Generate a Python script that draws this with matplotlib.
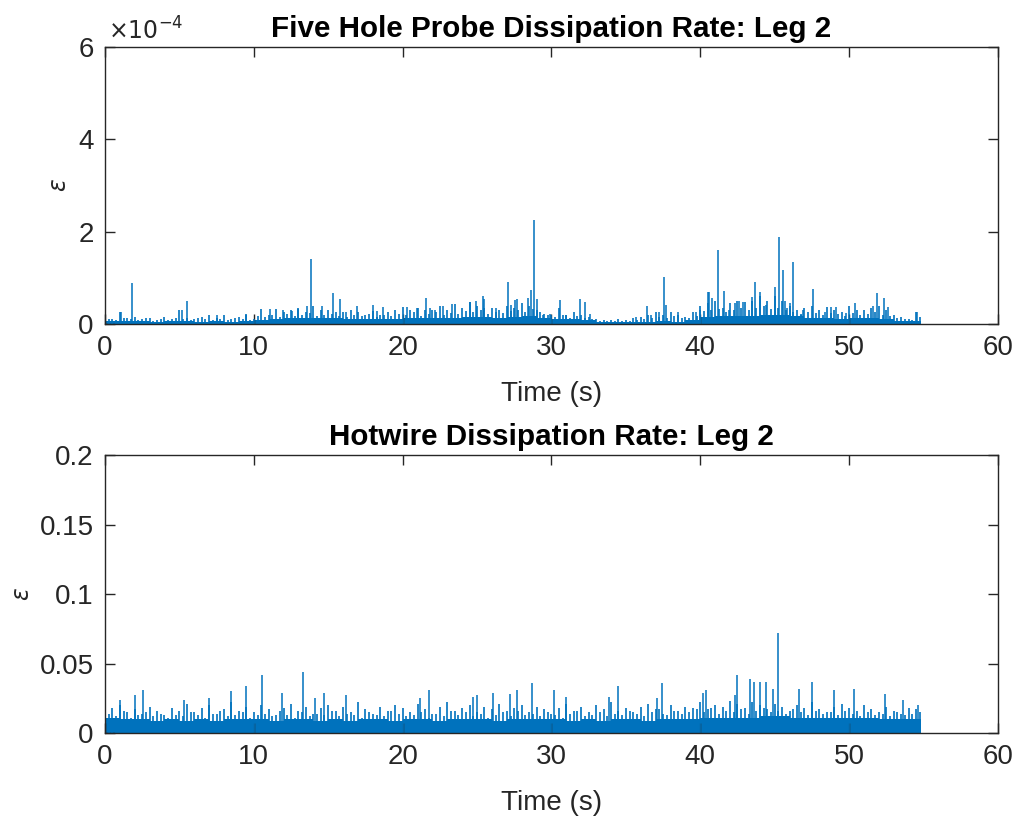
import numpy as np
import matplotlib
matplotlib.use("Agg")
import matplotlib.pyplot as plt

plt.rcParams['font.family'] = ['Liberation Sans', 'DejaVu Sans']

# ---- data ----
# five hole probe, values in units of 1e-4
fhp_spike_t = [0.0, 1.05, 1.8, 5.15, 5.5, 7.5, 9.5, 11.1, 11.94, 12.6, 13.0, 13.6,
               13.87, 14.56, 15.35, 15.8, 16.2, 16.96, 18.0, 18.3, 18.7, 20.3, 20.95,
               21.57, 21.85, 22.2, 22.7, 23.3, 24.5, 24.9, 25.4, 25.5, 26.3, 27.1,
               27.3, 27.55, 27.7, 28.45, 28.65, 28.8, 29.0, 29.4, 29.9, 30.55, 31.0,
               31.9, 32.25, 32.6, 35.7, 36.4, 36.7, 37.2, 37.57, 37.7, 38.5, 39.7,
               40.0, 40.5, 40.6, 40.8, 41.2, 41.6, 41.9, 42.3, 42.6, 42.9, 43.5,
               43.7, 44.0, 44.4, 45.0, 45.27, 45.57, 45.7, 45.85, 46.0, 46.2, 46.8,
               46.9, 47.56, 48.4, 48.8, 49.1, 49.8, 50.4, 51.6, 51.86, 52.35, 52.6,
               54.55]
fhp_spike_v = [0.74, 0.25, 0.89, 0.3, 0.5, 0.2, 0.2, 0.33, 0.3, 0.28, 0.33, 0.4,
               1.4, 0.39, 0.67, 0.54, 0.26, 0.4, 0.41, 0.28, 0.37, 0.36, 0.35,
               0.57, 0.34, 0.3, 0.38, 0.44, 0.47, 0.5, 0.6, 0.55, 0.34, 0.92,
               0.42, 0.53, 0.55, 0.57, 0.74, 2.25, 0.55, 0.2, 0.22, 0.51, 0.2,
               0.55, 0.48, 0.22, 0.15, 0.38, 0.2, 0.25, 1.01, 0.42, 0.27, 0.27,
               0.3, 0.7, 0.69, 0.56, 1.6, 0.72, 0.3, 0.46, 0.5, 0.48, 0.58,
               0.92, 0.7, 0.42, 0.8, 1.89, 1.17, 0.5, 0.35, 0.45, 1.34, 0.2,
               0.3, 0.75, 0.26, 0.36, 0.36, 0.23, 0.46, 0.4, 0.68, 0.56, 0.37,
               0.25]
# typical hair heights every 0.5 s
fhp_hair = [0.15, 0.1, 0.25, 0.12, 0.15, 0.1, 0.12, 0.08, 0.15, 0.1,
            0.3, 0.12, 0.1, 0.15, 0.2, 0.12, 0.2, 0.1, 0.15, 0.22,
            0.1, 0.33, 0.2, 0.33, 0.25, 0.3, 0.35, 0.25, 0.4, 0.3,
            0.3, 0.25, 0.26, 0.3, 0.25, 0.2, 0.28, 0.2, 0.25, 0.3,
            0.36, 0.3, 0.35, 0.3, 0.3, 0.38, 0.3, 0.44, 0.35, 0.47,
            0.4, 0.35, 0.34, 0.3, 0.4, 0.35, 0.45, 0.4, 0.3, 0.22,
            0.2, 0.35, 0.2, 0.25, 0.2, 0.15, 0.1, 0.08, 0.08, 0.1,
            0.08, 0.12, 0.15, 0.2, 0.25, 0.2, 0.27, 0.2, 0.15, 0.27,
            0.4, 0.45, 0.5, 0.35, 0.46, 0.5, 0.48, 0.5, 0.6, 0.5,
            0.6, 0.5, 0.4, 0.3, 0.35, 0.4, 0.3, 0.36, 0.3, 0.25,
            0.4, 0.3, 0.3, 0.35, 0.4, 0.3, 0.2, 0.15, 0.1, 0.25]
# smaller hairs, offset a quarter second
fhp_hair_b = [0.1, 0.08, 0.12, 0.1, 0.08, 0.12, 0.07, 0.1, 0.09, 0.12,
              0.1, 0.08, 0.12, 0.1, 0.09, 0.11, 0.08, 0.12, 0.1, 0.09,
              0.18, 0.15, 0.2, 0.16, 0.22, 0.18, 0.2, 0.24, 0.18, 0.2,
              0.22, 0.18, 0.15, 0.2, 0.17, 0.22, 0.16, 0.2, 0.18, 0.22,
              0.2, 0.25, 0.18, 0.22, 0.26, 0.2, 0.24, 0.22, 0.28, 0.25,
              0.3, 0.22, 0.26, 0.24, 0.28, 0.3, 0.26, 0.32, 0.25, 0.2,
              0.15, 0.2, 0.14, 0.18, 0.12, 0.1, 0.07, 0.06, 0.07, 0.06,
              0.07, 0.08, 0.1, 0.12, 0.15, 0.12, 0.18, 0.14, 0.12, 0.18,
              0.28, 0.3, 0.32, 0.26, 0.3, 0.34, 0.3, 0.35, 0.38, 0.32,
              0.35, 0.3, 0.26, 0.22, 0.25, 0.24, 0.2, 0.24, 0.22, 0.18,
              0.24, 0.2, 0.22, 0.25, 0.2, 0.18, 0.12, 0.1, 0.08, 0.15]
# base level per second
fhp_base = [0.07, 0.06, 0.06, 0.05, 0.06, 0.06, 0.05, 0.06, 0.05, 0.06,
            0.08, 0.1, 0.12, 0.12, 0.14, 0.12, 0.1, 0.1, 0.1, 0.1,
            0.12, 0.12, 0.12, 0.14, 0.15, 0.15, 0.12, 0.15, 0.18, 0.12,
            0.1, 0.1, 0.08, 0.04, 0.04, 0.04, 0.05, 0.06, 0.05, 0.08,
            0.15, 0.18, 0.18, 0.18, 0.2, 0.2, 0.18, 0.14, 0.12, 0.1,
            0.12, 0.12, 0.1, 0.06, 0.06]

# hotwire
hw_spike_t = [0.0, 1.0, 2.0, 2.58, 5.3, 7.0, 8.5, 9.5, 10.55, 11.9, 13.3, 14.1,
              14.7, 16.2, 21.2, 21.8, 24.7, 25.0, 26.1, 27.2, 27.7, 28.7, 30.15,
              31.0, 33.9, 34.5, 37.1, 37.4, 40.2, 40.4, 42.3, 42.5, 43.35, 43.6,
              44.0, 44.4, 44.9, 45.2, 46.6, 47.5, 49.0, 50.3, 52.4, 53.6, 54.6]
hw_spike_v = [0.2, 0.024, 0.027, 0.031, 0.024, 0.025, 0.03, 0.034, 0.042, 0.029,
              0.044, 0.025, 0.029, 0.027, 0.025, 0.031, 0.026, 0.027, 0.029, 0.028,
              0.031, 0.036, 0.031, 0.026, 0.026, 0.034, 0.025, 0.036, 0.029, 0.031,
              0.027, 0.042, 0.039, 0.037, 0.037, 0.037, 0.032, 0.072, 0.032, 0.037,
              0.031, 0.032, 0.028, 0.024, 0.02]
hw_hair_a = [0.022, 0.018, 0.02, 0.015, 0.017, 0.014, 0.019, 0.016, 0.013, 0.018,
             0.016, 0.021, 0.015, 0.018, 0.02, 0.014, 0.017, 0.022, 0.016, 0.019,
             0.015, 0.02, 0.017, 0.013, 0.018, 0.021, 0.016, 0.019, 0.014, 0.018,
             0.02, 0.016, 0.019, 0.015, 0.022, 0.017, 0.014, 0.019, 0.016, 0.02,
             0.018, 0.015, 0.021, 0.017, 0.014, 0.019, 0.022, 0.016, 0.018, 0.02,
             0.015, 0.019, 0.017, 0.021, 0.016, 0.018, 0.02, 0.015, 0.019, 0.017,
             0.014, 0.018, 0.021, 0.016, 0.019, 0.015, 0.02, 0.017, 0.022, 0.016,
             0.018, 0.015, 0.019, 0.021, 0.017, 0.014, 0.02, 0.016, 0.019, 0.018,
             0.022, 0.017, 0.02, 0.019, 0.023, 0.021, 0.018, 0.022, 0.02, 0.017,
             0.021, 0.019, 0.016, 0.02, 0.018, 0.022, 0.017, 0.015, 0.019, 0.021,
             0.018, 0.016, 0.02, 0.017, 0.015, 0.019, 0.016, 0.014, 0.018, 0.017]
hw_hair_b = [0.014, 0.012, 0.016, 0.011, 0.013, 0.015, 0.012, 0.014, 0.011, 0.013,
             0.012, 0.015, 0.013, 0.011, 0.014, 0.016, 0.012, 0.013, 0.015, 0.011,
             0.013, 0.014, 0.012, 0.016, 0.013, 0.011, 0.015, 0.012, 0.014, 0.013,
             0.016, 0.012, 0.014, 0.013, 0.011, 0.015, 0.013, 0.012, 0.016, 0.014,
             0.012, 0.013, 0.015, 0.011, 0.014, 0.012, 0.016, 0.013, 0.015, 0.012,
             0.014, 0.011, 0.013, 0.015, 0.012, 0.016, 0.013, 0.014, 0.012, 0.015,
             0.013, 0.011, 0.014, 0.016, 0.012, 0.013, 0.015, 0.012, 0.014, 0.013,
             0.016, 0.014, 0.012, 0.015, 0.017, 0.013, 0.016, 0.014, 0.015, 0.017,
             0.015, 0.018, 0.014, 0.016, 0.015, 0.017, 0.014, 0.016, 0.018, 0.015,
             0.016, 0.014, 0.017, 0.015, 0.013, 0.016, 0.014, 0.015, 0.013, 0.016,
             0.014, 0.012, 0.015, 0.013, 0.014, 0.012, 0.015, 0.013, 0.014, 0.015]
hw_base = [0.011, 0.01, 0.01, 0.009, 0.01, 0.009, 0.01, 0.009, 0.01, 0.01,
           0.01, 0.009, 0.01, 0.01, 0.009, 0.01, 0.009, 0.01, 0.01, 0.009,
           0.01, 0.01, 0.009, 0.01, 0.01, 0.01, 0.009, 0.01, 0.01, 0.01,
           0.01, 0.009, 0.01, 0.009, 0.01, 0.01, 0.009, 0.01, 0.01, 0.01,
           0.011, 0.011, 0.011, 0.011, 0.012, 0.012, 0.011, 0.011, 0.011, 0.011,
           0.011, 0.011, 0.01, 0.01, 0.01]

blue = '#0072BD'
dark = '#262626'


def draw_signal(ax, spike_t, spike_v, hair_a, hair_b, base):
    t_sec = np.arange(len(base) + 1)
    ax.fill_between(t_sec[:-1], 0, base, step='post', color=blue, lw=0)
    ax.fill_between([54.0, 54.8], 0, [base[-1], base[-1]], color=blue, lw=0)
    t_a = np.arange(len(hair_a)) * 0.5
    ax.vlines(t_a, 0, hair_a, color=blue, lw=1.2)
    t_b = np.arange(len(hair_b)) * 0.5 + 0.25
    ax.vlines(t_b, 0, hair_b, color=blue, lw=1.2)
    ax.vlines(spike_t, 0, spike_v, color=blue, lw=1.1)


def style(ax):
    for s in ax.spines.values():
        s.set_color(dark)
        s.set_linewidth(1.0)
    ax.tick_params(direction='in', length=7, width=1.0, colors=dark,
                   labelsize=20, top=True, right=True, pad=8)
    ax.set_xlim(0, 60)
    ax.set_xticks(range(0, 61, 10))
    ax.set_xlabel('Time (s)', fontsize=20, color=dark, labelpad=14)


fig = plt.figure(figsize=(10.18, 8.24), dpi=100)

ax1 = fig.add_axes([0.1031, 0.6068, 0.8772, 0.3362])
draw_signal(ax1, fhp_spike_t, fhp_spike_v, fhp_hair, fhp_hair_b, fhp_base)
style(ax1)
ax1.set_ylim(0, 6)
ax1.set_yticks([0, 2, 4, 6])
ax1.set_ylabel(r'$\epsilon$', fontsize=17, color=dark, labelpad=5)
ax1.set_title('Five Hole Probe Dissipation Rate: Leg 2', fontsize=21.3,
              fontweight='bold', pad=7)
ax1.text(0.003, 1.01, r'$\times10^{-4}$', transform=ax1.transAxes,
         fontsize=17, color=dark, ha='left', va='bottom')

ax2 = fig.add_axes([0.1031, 0.1104, 0.8772, 0.3374])
draw_signal(ax2, hw_spike_t, hw_spike_v, hw_hair_a, hw_hair_b, hw_base)
style(ax2)
ax2.set_ylim(0, 0.2)
ax2.set_yticks([0, 0.05, 0.1, 0.15, 0.2])
ax2.set_yticklabels(['0', '0.05', '0.1', '0.15', '0.2'])
ax2.set_ylabel(r'$\epsilon$', fontsize=17, color=dark, labelpad=4)
ax2.set_title('Hotwire Dissipation Rate: Leg 2', fontsize=21.3,
              fontweight='bold', pad=7)

fig.savefig('out.png', dpi=100)
